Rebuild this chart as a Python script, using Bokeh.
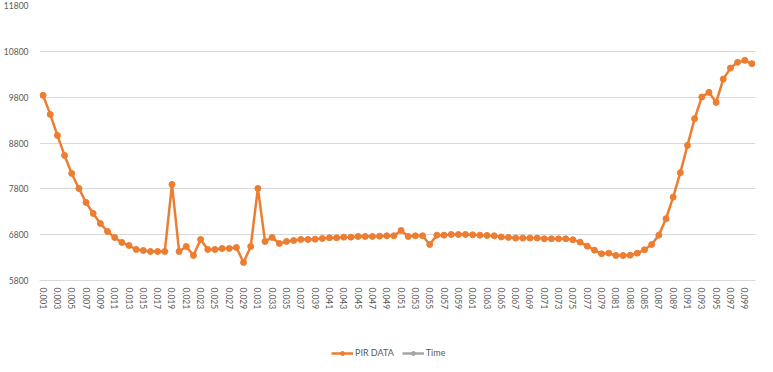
from bokeh.plotting import figure
from bokeh.models import FixedTicker, Legend, LegendItem, Range1d
from bokeh.layouts import column
from bokeh.embed import file_html
from bokeh.resources import INLINE

# ---- data ----
x_labels = ["%.3f" % ((i + 1) / 1000) for i in range(100)]
pir_data = [
    9840, 9424, 8966, 8529, 8136, 7809, 7503, 7263, 7045, 6870,
    6739, 6630, 6564, 6477, 6455, 6433, 6433, 6433, 7896, 6433,
    6542, 6346, 6695, 6477, 6477, 6499, 6499, 6520, 6193, 6542,
    7809, 6652, 6739, 6608, 6652, 6673, 6695, 6695, 6702, 6717,
    6732, 6732, 6746, 6746, 6761, 6761, 6761, 6768, 6776, 6776,
    6892, 6761, 6776, 6776, 6586, 6790, 6790, 6804, 6804, 6804,
    6797, 6790, 6783, 6776, 6750, 6740, 6725, 6725, 6725, 6725,
    6710, 6710, 6710, 6710, 6688, 6637, 6549, 6462, 6383, 6397,
    6346, 6346, 6352, 6396, 6470, 6586, 6790, 7147, 7619, 8152,
    8748, 9331, 9802, 9905, 9686, 10195, 10435, 10560, 10603, 10531,
]
time_data = [float(s) for s in x_labels]
y_ticks = [5800, 6800, 7800, 8800, 9800, 10800, 11800]

FONT = "Lato"
TXT = "#595959"
GRID = "#d9d9d9"
ORANGE = "#ED7D31"
GREY = "#A5A5A5"

xs = list(range(1, len(x_labels) + 1))

p = figure(width=765, height=340, output_backend="svg", toolbar_location=None,
           x_range=Range1d(0.5, len(x_labels) + 0.5),
           y_range=Range1d(y_ticks[0], y_ticks[-1]),
           min_border_left=38, min_border_right=10, min_border_top=5, min_border_bottom=60)
p.outline_line_color = None
p.background_fill_color = "white"
p.border_fill_color = "white"

# axes
p.yaxis.ticker = FixedTicker(ticks=y_ticks)
p.yaxis.axis_line_color = None
p.yaxis.major_tick_line_color = None
p.yaxis.minor_tick_line_color = None
p.yaxis.major_label_standoff = 5
p.yaxis.major_label_text_font = FONT
p.yaxis.major_label_text_font_size = "8.5px"
p.yaxis.major_label_text_color = TXT

p.xaxis.ticker = FixedTicker(ticks=xs[::2])
p.xaxis.major_label_overrides = {i: x_labels[i - 1] for i in xs}
p.xaxis.major_label_orientation = "vertical"
p.xaxis.axis_line_color = GRID
p.xaxis.major_tick_line_color = None
p.xaxis.minor_tick_line_color = None
p.xaxis.major_tick_out = 0
p.xaxis.major_label_standoff = 7
p.xaxis.major_label_text_font = FONT
p.xaxis.major_label_text_font_size = "8.5px"
p.xaxis.major_label_text_color = TXT

p.xgrid.grid_line_color = None
p.ygrid.ticker = FixedTicker(ticks=y_ticks)
p.ygrid.grid_line_color = GRID
p.ygrid.grid_line_width = 1

# series
p.line(xs, pir_data, line_color=ORANGE, line_width=2.5)
p.scatter(xs, pir_data, size=6, fill_color=ORANGE, line_color=ORANGE)
p.line(xs, time_data, line_color=GREY, line_width=2.5)
p.scatter(xs, time_data, size=6, fill_color=GREY, line_color=GREY)

# legend strip (its series lie outside its ranges, so only the legend shows)
lg = figure(width=765, height=24, output_backend="svg", toolbar_location=None,
            x_range=Range1d(0.5, len(x_labels) + 0.5), y_range=Range1d(-3, -2),
            min_border=0)
lg.axis.visible = False
lg.grid.visible = False
lg.outline_line_color = None
l1 = lg.line(xs, pir_data, line_color=ORANGE, line_width=2.5)
s1 = lg.scatter(xs, pir_data, size=6, fill_color=ORANGE, line_color=ORANGE)
l2 = lg.line(xs, time_data, line_color=GREY, line_width=2.5)
s2 = lg.scatter(xs, time_data, size=6, fill_color=GREY, line_color=GREY)

legend = Legend(items=[LegendItem(label="PIR DATA", renderers=[l1, s1]),
                       LegendItem(label="Time", renderers=[l2, s2])],
                orientation="horizontal", location=(292, 6))
legend.border_line_color = None
legend.background_fill_alpha = 0
legend.padding = 0
legend.margin = 0
legend.spacing = 8
legend.glyph_width = 22
legend.glyph_height = 10
legend.label_standoff = 2
legend.label_text_font = FONT
legend.label_text_font_size = "9px"
legend.label_text_color = TXT
legend.label_height = 10
lg.add_layout(legend, "center")

layout = column(p, lg, spacing=0)
open("out.html", "w").write(file_html(layout, INLINE))
